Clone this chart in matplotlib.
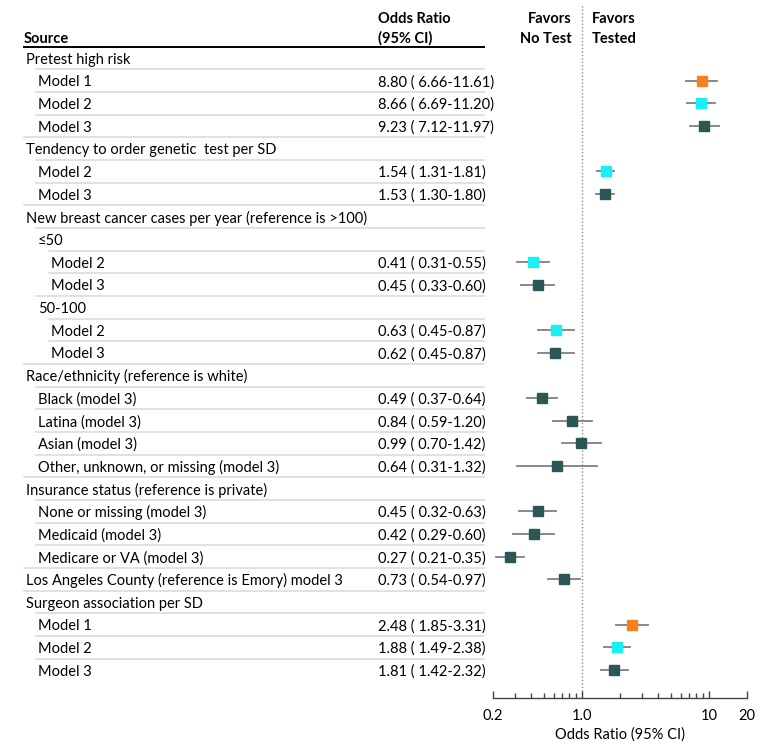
import matplotlib
matplotlib.use("Agg")
import matplotlib.pyplot as plt
import matplotlib.transforms as mtransforms
from matplotlib.ticker import FixedLocator, NullFormatter

plt.rcParams['font.family'] = ['Lato', 'DejaVu Sans']

# Rows: label, indent level, odds ratio, lower, upper, model (0 = header row)
labels = ['Pretest high risk', 'Model 1', 'Model 2', 'Model 3',
          'Tendency to order genetic  test per SD', 'Model 2', 'Model 3',
          'New breast cancer cases per year (reference is >100)',
          '\u226450', 'Model 2', 'Model 3', '50-100', 'Model 2', 'Model 3',
          'Race/ethnicity (reference is white)',
          'Black (model 3)', 'Latina (model 3)', 'Asian (model 3)',
          'Other, unknown, or missing (model 3)',
          'Insurance status (reference is private)',
          'None or missing (model 3)', 'Medicaid (model 3)', 'Medicare or VA (model 3)',
          'Los Angeles County (reference is Emory) model 3',
          'Surgeon association per SD', 'Model 1', 'Model 2', 'Model 3']
levels = [0, 1, 1, 1, 0, 1, 1, 0, 1, 2, 2, 1, 2, 2, 0, 1, 1, 1, 1, 0, 1, 1, 1, 0, 0, 1, 1, 1]
odds = [None, 8.80, 8.66, 9.23, None, 1.54, 1.53, None, None, 0.41, 0.45, None, 0.63, 0.62,
        None, 0.49, 0.84, 0.99, 0.64, None, 0.45, 0.42, 0.27, 0.73, None, 2.48, 1.88, 1.81]
lower = [None, 6.66, 6.69, 7.12, None, 1.31, 1.30, None, None, 0.31, 0.33, None, 0.45, 0.45,
         None, 0.37, 0.59, 0.70, 0.31, None, 0.32, 0.29, 0.21, 0.54, None, 1.85, 1.49, 1.42]
upper = [None, 11.61, 11.20, 11.97, None, 1.81, 1.80, None, None, 0.55, 0.60, None, 0.87, 0.87,
         None, 0.64, 1.20, 1.42, 1.32, None, 0.63, 0.60, 0.35, 0.97, None, 3.31, 2.38, 2.32]
models = [0, 1, 2, 3, 0, 2, 3, 0, 0, 2, 3, 0, 2, 3, 0, 3, 3, 3, 3, 0, 3, 3, 3, 3, 0, 1, 2, 3]

model_colors = {1: '#f7801e', 2: '#19f0f5', 3: '#2b5757'}
indent_px = [26, 38, 51]
W, H = 780, 755

fig = plt.figure(figsize=(7.8, 7.55), dpi=100)
ax = fig.add_axes([493 / W, (H - 698) / H, 254 / W, 693 / H])

row_h = (670 - 58) / 27.0
y_top = (5 - 58) / row_h
y_bot = (698 - 58) / row_h
ax.set_xscale('log')
ax.set_xlim(0.2, 20)
ax.set_ylim(y_bot, y_top)

trans = mtransforms.blended_transform_factory(fig.transFigure, ax.transData)
fs = 10.5
dy = 0.07  # small nudge so text sits centred like the reference

for i, lab in enumerate(labels):
    ax.text(indent_px[levels[i]] / W, i + dy, lab, transform=trans, fontsize=fs,
            va='center', ha='left', color='black', clip_on=False)
    if odds[i] is not None:
        ax.text(378 / W, i + dy, '%.2f ( %.2f-%.2f)' % (odds[i], lower[i], upper[i]),
                transform=trans, fontsize=fs, va='center', ha='left',
                color='black', clip_on=False)
        ax.plot([lower[i], upper[i]], [i, i], color='#7f7f7f', lw=1.3, zorder=2)
        ax.plot(odds[i], i, marker='s', ms=6.5, color=model_colors[models[i]],
                mec=model_colors[models[i]], zorder=3)
    # separator line above each row (except the first)
    if i > 0:
        x0 = (indent_px[levels[i]] - 2) / W
        ax.plot([x0, 484 / W], [i - 0.5, i - 0.5], transform=trans,
                color='#dcdcdc', lw=1.2, clip_on=False)

# header
ax.plot([24 / W, 484 / W], [-0.5, -0.5], transform=trans, color='black', lw=1.4, clip_on=False)
hy1 = (17 - 58) / row_h + dy
hy2 = (37 - 58) / row_h + dy
ax.text(24 / W, hy2, 'Source', transform=trans, fontsize=fs, fontweight='bold',
        va='center', ha='left', clip_on=False)
ax.text(378 / W, hy1, 'Odds Ratio', transform=trans, fontsize=fs, fontweight='bold',
        va='center', ha='left', clip_on=False)
ax.text(378 / W, hy2, '(95% CI)', transform=trans, fontsize=fs, fontweight='bold',
        va='center', ha='left', clip_on=False)
ax.text(572 / W, hy1, 'Favors', transform=trans, fontsize=fs, fontweight='bold',
        va='center', ha='right', clip_on=False)
ax.text(572 / W, hy2, 'No Test', transform=trans, fontsize=fs, fontweight='bold',
        va='center', ha='right', clip_on=False)
ax.text(592 / W, hy1, 'Favors', transform=trans, fontsize=fs, fontweight='bold',
        va='center', ha='left', clip_on=False)
ax.text(592 / W, hy2, 'Tested', transform=trans, fontsize=fs, fontweight='bold',
        va='center', ha='left', clip_on=False)

# reference line
ax.axvline(1.0, color='#8c8c8c', lw=1.0, linestyle=(0, (1, 1.5)), zorder=1)

for s in ['top', 'left', 'right']:
    ax.spines[s].set_visible(False)
ax.spines['bottom'].set_color('#444444')
ax.spines['bottom'].set_linewidth(1.0)
ax.set_yticks([])
ax.xaxis.set_major_locator(FixedLocator([0.2, 1.0, 10, 20]))
ax.set_xticklabels(['0.2', '1.0', '10', '20'])
ax.xaxis.set_minor_locator(FixedLocator([0.3, 0.4, 0.5, 0.6, 0.7, 0.8, 0.9,
                                         2, 3, 4, 5, 6, 7, 8, 9]))
ax.xaxis.set_minor_formatter(NullFormatter())
ax.tick_params(axis='x', which='major', direction='in', length=5, width=1.0,
               color='#444444', labelsize=fs, pad=8)
ax.tick_params(axis='x', which='minor', direction='in', length=3.5, width=1.0,
               color='#444444')
ax.set_xlabel('Odds Ratio (95% CI)', fontsize=fs, labelpad=3)

fig.savefig('out.png', dpi=100)
